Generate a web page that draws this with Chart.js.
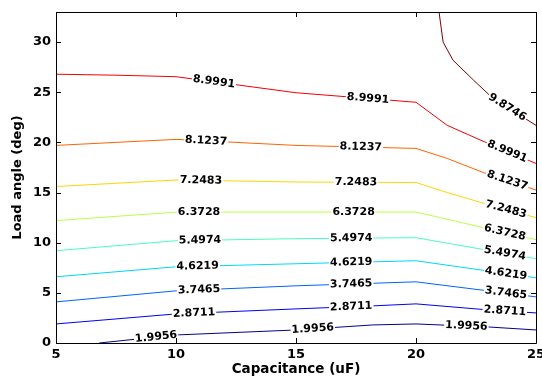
<!DOCTYPE html>
<html>
<head>
<meta charset="utf-8">
<script src="https://cdn.jsdelivr.net/npm/chart.js@4.4.1/dist/chart.umd.min.js"></script>
<style>
  body { margin: 0; background: #fff; }
  #wrap { width: 542px; height: 380px; }
</style>
</head>
<body>
<div id="wrap"><canvas id="contour" width="542" height="380"></canvas></div>
<script>
// contour levels (load angle vs capacitance)
const levels = ['1.9956', '2.8711', '3.7465', '4.6219', '5.4974', '6.3728', '7.2483', '8.1237', '8.9991', '9.8746'];

// contour paths, [capacitance, load angle]
const c1 = [[6.8, 0], [10, 0.8], [15, 1.3], [18.2, 1.8], [20, 1.9], [23, 1.6], [25, 1.3]];
const c2 = [[5, 1.9], [10, 2.9], [15, 3.4], [18.2, 3.7], [20, 3.9], [23, 3.3], [25, 3.0]];
const c3 = [[5, 4.1], [10, 5.2], [15, 5.7], [20, 6.1], [25, 4.6]];
const c4 = [[5, 6.6], [10, 7.6], [15, 7.9], [20, 8.2], [25, 6.5]];
const c5 = [[5, 9.2], [10, 10.2], [15, 10.4], [20, 10.5], [25, 8.4]];
const c6 = [[5, 12.2], [10, 13.05], [15, 13.05], [20, 13.05], [25, 10.3]];
const c7 = [[5, 15.6], [10, 16.25], [15, 16.05], [20, 16.0], [21.3, 15.0], [23, 13.8], [25, 12.5]];
const c8 = [[5, 19.7], [10, 20.3], [15, 19.7], [20, 19.4], [21.3, 18.4], [22.8, 17.0], [25, 15.25]];
const c9 = [[5, 26.8], [7.5, 26.7], [10, 26.55], [15, 24.95], [20, 24.0], [21.3, 21.7], [23, 19.9], [25, 17.9]];
const c10 = [[20.96, 33], [21.13, 30], [21.54, 28.2], [22.4, 26.2], [23.2, 24.4], [25, 21.7]];

// where the inline labels sit along each contour (capacitance)
const lab1 = [9.17, 15.7, 22.1];
const lab2 = [10.75, 17.3, 23.7];
const lab3 = [10.96, 17.3, 23.75];
const lab4 = [10.9, 17.3, 23.75];
const lab5 = [11.0, 17.3, 23.7];
const lab6 = [10.96, 17.4, 23.7];
const lab7 = [11.04, 17.5, 23.75];
const lab8 = [11.25, 17.7, 23.8];
const lab9 = [11.58, 18.0, 23.8];
const lab10 = [23.8];

const xTicks = [5, 10, 15, 20, 25];
const yTicks = [0, 5, 10, 15, 20, 25, 30];

// jet colormap
const jet = ['#00008f', '#0000f0', '#0063ff', '#00d5ff', '#47ffb8', '#b8ff47', '#ffd500', '#ff6300', '#f00000', '#800000'];

const paths = [c1, c2, c3, c4, c5, c6, c7, c8, c9, c10];
const labelPos = [lab1, lab2, lab3, lab4, lab5, lab6, lab7, lab8, lab9, lab10];

const FONT = "'DejaVu Sans', sans-serif";

// y on a path at a given x, plus the segment it falls on
function onPath(path, x) {
    for (let i = 0; i < path.length - 1; i++) {
        const a = path[i], b = path[i + 1];
        const lo = Math.min(a[0], b[0]), hi = Math.max(a[0], b[0]);
        if (x >= lo && x <= hi) {
            const t = (x - a[0]) / (b[0] - a[0]);
            return { y: a[1] + t * (b[1] - a[1]), a, b };
        }
    }
    return null;
}

// inline contour labels (clabel style)
const contourLabels = {
    id: 'contourLabels',
    afterDatasetsDraw(chart) {
        const ctx = chart.ctx;
        const xs = chart.scales.x, ys = chart.scales.y;
        ctx.save();
        ctx.font = 'bold 11px ' + FONT;
        ctx.textAlign = 'center';
        ctx.textBaseline = 'middle';
        paths.forEach((path, i) => {
            labelPos[i].forEach(lx => {
                const hit = onPath(path, lx);
                if (!hit) return;
                const px = xs.getPixelForValue(lx);
                const py = ys.getPixelForValue(hit.y);
                const dx = xs.getPixelForValue(hit.b[0]) - xs.getPixelForValue(hit.a[0]);
                const dy = ys.getPixelForValue(hit.b[1]) - ys.getPixelForValue(hit.a[1]);
                let ang = Math.atan2(dy, dx);
                if (ang > Math.PI / 2) ang -= Math.PI;
                if (ang < -Math.PI / 2) ang += Math.PI;
                const w = ctx.measureText(levels[i]).width;
                ctx.save();
                ctx.translate(px, py);
                ctx.rotate(ang);
                ctx.fillStyle = '#fff';
                ctx.fillRect(-w / 2 - 1, -5, w + 2, 10);
                ctx.fillStyle = '#000';
                ctx.fillText(levels[i], 0, 0);
                ctx.restore();
            });
        });
        ctx.restore();
    }
};

// box round the plot with inward ticks on all four sides
const boxAxes = {
    id: 'boxAxes',
    afterDraw(chart) {
        const ctx = chart.ctx;
        const { left, right, top, bottom } = chart.chartArea;
        const xs = chart.scales.x, ys = chart.scales.y;
        const len = 5;
        ctx.save();
        ctx.strokeStyle = '#000';
        ctx.lineWidth = 1;
        ctx.beginPath();
        ctx.rect(Math.round(left) + 0.5, Math.round(top) + 0.5, Math.round(right - left), Math.round(bottom - top));
        xTicks.forEach(v => {
            const p = Math.round(xs.getPixelForValue(v)) + 0.5;
            ctx.moveTo(p, bottom); ctx.lineTo(p, bottom - len);
            ctx.moveTo(p, top); ctx.lineTo(p, top + len);
        });
        yTicks.forEach(v => {
            const p = Math.round(ys.getPixelForValue(v)) + 0.5;
            ctx.moveTo(left, p); ctx.lineTo(left + len, p);
            ctx.moveTo(right, p); ctx.lineTo(right - len, p);
        });
        ctx.stroke();
        ctx.restore();
    }
};

new Chart(document.getElementById('contour'), {
    type: 'scatter',
    data: {
        datasets: paths.map((path, i) => ({
            label: levels[i],
            data: path.map(p => ({ x: p[0], y: p[1] })),
            showLine: true,
            borderColor: jet[i],
            borderWidth: 1,
            pointRadius: 0,
            tension: 0
        }))
    },
    options: {
        responsive: false,
        animation: false,
        layout: { padding: { top: 12, right: 6, left: 0, bottom: 0 } },
        plugins: {
            legend: { display: false },
            tooltip: { enabled: false }
        },
        scales: {
            x: {
                type: 'linear',
                min: 5,
                max: 25,
                afterBuildTicks: s => { s.ticks = xTicks.map(v => ({ value: v })); },
                afterFit: s => { s.height = 37; s.paddingLeft = 0; s.paddingRight = 0; },
                grid: { display: false, drawTicks: false },
                border: { display: false },
                ticks: { color: '#000', padding: 4, font: { family: FONT, size: 13, weight: 'bold' } },
                title: {
                    display: true,
                    text: 'Capacitance (uF)',
                    color: '#000',
                    padding: { top: 0, bottom: 2 },
                    font: { family: FONT, size: 13.5, weight: 'bold' }
                }
            },
            y: {
                type: 'linear',
                min: 0,
                max: 33,
                afterBuildTicks: s => { s.ticks = yTicks.map(v => ({ value: v })); },
                afterFit: s => { s.width = 56; s.paddingTop = 0; s.paddingBottom = 0; },
                grid: { display: false, drawTicks: false },
                border: { display: false },
                ticks: { color: '#000', padding: 5, font: { family: FONT, size: 13, weight: 'bold' } },
                title: {
                    display: true,
                    text: 'Load angle (deg)',
                    color: '#000',
                    padding: { top: 10, bottom: 0 },
                    font: { family: FONT, size: 13, weight: 'bold' }
                }
            }
        }
    },
    plugins: [contourLabels, boxAxes]
});
</script>
</body>
</html>
